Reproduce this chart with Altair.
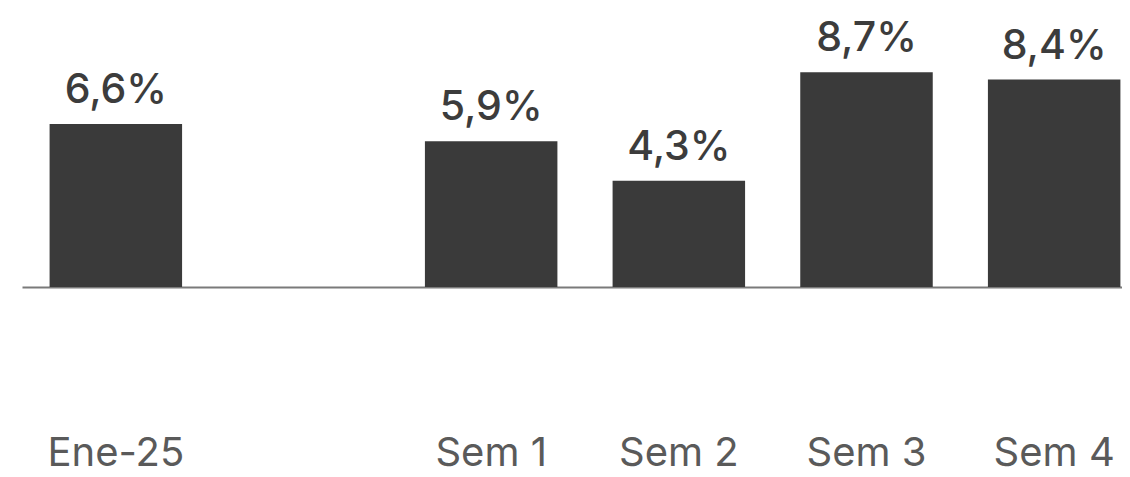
import altair as alt
import pandas as pd

categories = ["Ene-25", " ", "Sem 1", "Sem 2", "Sem 3", "Sem 4"]
values = [6.6, None, 5.9, 4.3, 8.7, 8.4]

labels = [("" if v is None else f"{v:.1f}%".replace(".", ",")) for v in values]
df = pd.DataFrame({"cat": categories, "val": values, "lbl": labels})

FONT = "Inter"

x = alt.X(
    "cat:N",
    sort=categories,
    title=None,
    scale=alt.Scale(range=[14, 1140], paddingInner=0.294, paddingOuter=0.147),
    axis=alt.Axis(
        domain=True,
        domainColor="#7a7a7a",
        domainWidth=2,
        ticks=False,
        labelAngle=0,
        labelFont=FONT,
        labelFontSize=40,
        labelColor="#5a5a5a",
        labelBaseline="alphabetic",
        labelPadding=178,
        grid=False,
    ),
)
y = alt.Y(
    "val:Q",
    title=None,
    scale=alt.Scale(domain=[0, 11.3], nice=False, zero=True),
    axis=None,
)

base = alt.Chart(df)
bars = base.mark_bar(color="#3a3a3a").encode(x=x, y=y)
text = base.mark_text(
    font=FONT,
    fontSize=41,
    fontWeight=500,
    color="#3c3c3c",
    baseline="alphabetic",
    dy=-21,
).encode(x=x, y=y, text="lbl:N")

chart = (
    alt.layer(bars, text)
    .properties(
        width=1114,
        height=279,
        padding={"left": 0, "top": 0, "right": 0, "bottom": 182},
        autosize=alt.AutoSizeParams(type="none"),
    )
    .configure_view(stroke=None)
)

chart.save("out.html", embed_options={"renderer": "svg", "actions": False})
